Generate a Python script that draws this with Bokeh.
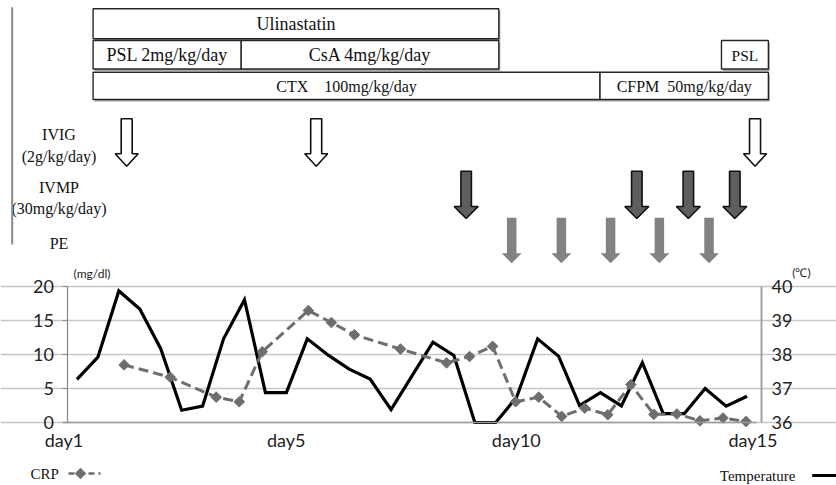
from bokeh.plotting import figure
from bokeh.models import Range1d, LinearAxis, FixedTicker, ColumnDataSource
from bokeh.embed import file_html
from bokeh.resources import INLINE
from bokeh.core.properties import value, field

# ---------------- data ----------------
# Temperature (deg C), sampled twice a day (33 samples)
temperature = [37.27, 37.92, 39.87, 39.34, 38.17, 36.36, 36.48, 38.46, 39.61, 36.88,
               36.88, 38.46, 37.98, 37.57, 37.28, 36.38, 37.37, 38.36, 37.97, 36.0,
               36.0, 36.75, 38.46, 37.95, 36.5, 36.88, 36.49, 37.76, 36.26, 36.26,
               37.0, 36.48, 36.77]
# CRP (mg/dl) on its own 30-slot time grid
crp_slots = 30
crp_index = [2, 4, 6, 7, 8, 10, 11, 12, 14, 16, 17, 18, 19, 20, 21, 22, 23, 24, 25,
             26, 27, 28, 29]
crp_values = [8.47, 6.67, 3.73, 3.05, 10.4, 16.47, 14.7, 12.9, 10.8, 8.77, 9.7, 11.2,
              3.05, 3.73, 0.9, 2.12, 1.14, 5.58, 1.2, 1.26, 0.25, 0.67, 0.15]

crp_ticks = [0, 5, 10, 15, 20]
temp_ticks = [36, 37, 38, 39, 40]
day_labels = ["day1", "day5", "day10", "day15"]
day_label_pos = [0.165, 5, 10, 15.146]

# Treatment timeline (days)
treatments = ["Ulinastatin", "PSL 2mg/kg/day", "CsA 4mg/kg/day",
              "CTX\u3000100mg/kg/day", "CFPM\u00a0\u00a050mg/kg/day", "PSL"]
treat_start = [0.80, 0.80, 4.02, 0.80, 11.82, 14.46]
treat_end = [9.62, 4.02, 9.62, 11.82, 15.48, 15.48]
treat_row = [0, 1, 1, 2, 2, 1]

ivig_days = [1.53, 5.65, 15.19]
ivmp_days = [8.91, 12.62, 13.74, 14.75]
pe_days = [9.90, 10.98, 12.05, 13.11, 14.19]

side_labels = ["IVIG", "(2g/kg/day)", "IVMP", "(30mg/kg/day)", "PE"]

# ---------------- layout / style ----------------
W, H = 836, 485
PX_PER_DAY = 46.0
DAY5_PX = 285.8
PL, PR = 66.0, 757.0          # plot-area edges used by the category series
Y0_PX, YTOP_PX = 422.0, 286.0  # pixel rows of CRP 0 / 20 (and 36 / 40 deg C)

def px_to_day(px):
    return 5 + (px - DAY5_PX) / PX_PER_DAY

def crp_at(py):
    return (Y0_PX - py) * 20.0 / (Y0_PX - YTOP_PX)

def temp_at(py):
    return 36 + (Y0_PX - py) * 4.0 / (Y0_PX - YTOP_PX)

def cat_at(px, n):
    return (px - PL) / ((PR - PL) / n) - 0.5

SERIF = value("Liberation Serif")
SANS = value("Lato")
ROW_TOP = [8.3, 40.0, 71.7]
ROW_BOT = [38.3, 68.5, 99.0]
box_font = ["18px", "18px", "18px", "16px", "16px", "15.5px"]

p = figure(width=W, height=H,
           x_range=Range1d(px_to_day(0), px_to_day(W)),
           y_range=Range1d(crp_at(H), crp_at(0)),
           output_backend="svg", toolbar_location=None, min_border=0)
p.extra_x_ranges = {"tidx": Range1d(cat_at(0, len(temperature)), cat_at(W, len(temperature))),
                    "cidx": Range1d(cat_at(0, crp_slots), cat_at(W, crp_slots)),
                    "pxx": Range1d(0, W)}
p.extra_y_ranges = {"temp": Range1d(temp_at(H), temp_at(0)),
                    "px": Range1d(H, 0)}
p.outline_line_color = None
p.xgrid.visible = False
p.ygrid.ticker = FixedTicker(ticks=crp_ticks)
p.ygrid.bounds = (px_to_day(66.5), px_to_day(755))
p.ygrid.grid_line_color = "#c6c6c6"
p.ygrid.grid_line_width = 1.3

# ---- axes ----
ya = p.yaxis[0]
ya.ticker = FixedTicker(ticks=crp_ticks)
ya.fixed_location = px_to_day(66.5)
ya.bounds = (0, 20)
ya.axis_line_color = "#8c8c8c"
ya.axis_line_width = 1.3
ya.major_tick_line_color = "#8c8c8c"
ya.major_tick_out = 5
ya.major_tick_in = 0
ya.minor_tick_line_color = None
ya.major_label_standoff = 8
ya.major_label_text_font = "Lato"
ya.major_label_text_font_size = "18px"
ya.major_label_text_color = "#222222"

xa = p.xaxis[0]
xa.ticker = FixedTicker(ticks=day_label_pos)
xa.major_label_overrides = dict(zip(day_label_pos, day_labels))
xa.fixed_location = 0
xa.bounds = (px_to_day(63), px_to_day(756))
xa.axis_line_color = "#9a9a9a"
xa.axis_line_width = 1.3
xa.major_tick_out = 0
xa.major_tick_in = 0
xa.minor_tick_line_color = None
xa.major_label_standoff = 6
xa.major_label_text_font = "Lato"
xa.major_label_text_font_size = "18px"
xa.major_label_text_color = "#222222"

ra = LinearAxis(y_range_name="temp", ticker=FixedTicker(ticks=temp_ticks), bounds=(36, 40))
ra.fixed_location = px_to_day(761)
ra.axis_line_color = "#a0a0a0"
ra.axis_line_width = 2
ra.major_tick_out = 0
ra.major_tick_in = 0
ra.minor_tick_line_color = None
ra.major_label_standoff = 10
ra.major_label_text_font = "Lato"
ra.major_label_text_font_size = "18px"
ra.major_label_text_color = "#222222"
p.add_layout(ra, "right")

# ---- series ----
p.line(x=list(range(len(temperature))), y=temperature, x_range_name="tidx",
       y_range_name="temp", line_color="black", line_width=3.2, line_join="miter")
CRP_COL = "#6e6e6e"
p.line(x=crp_index, y=crp_values, x_range_name="cidx", line_color=CRP_COL,
       line_width=3, line_dash="10 5")
p.scatter(x=crp_index, y=crp_values, x_range_name="cidx", marker="square",
          angle=0.785, size=7.5, fill_color=CRP_COL, line_color=CRP_COL)

# ---- treatment boxes ----
sh_x = 1.5 / PX_PER_DAY
box_src = ColumnDataSource(dict(
    l=treat_start, r=treat_end,
    t=[ROW_TOP[k] for k in treat_row], b=[ROW_BOT[k] for k in treat_row],
    sl=[s + sh_x for s in treat_start], sr=[e + sh_x for e in treat_end],
    st=[ROW_TOP[k] + 2 for k in treat_row], sb=[ROW_BOT[k] + 2 for k in treat_row],
    cx=[(s + e) / 2 for s, e in zip(treat_start, treat_end)],
    cy=[(ROW_TOP[k] + ROW_BOT[k]) / 2 + 0.5 for k in treat_row],
    name=treatments, fs=box_font))
p.quad(left="sl", right="sr", top="st", bottom="sb", source=box_src, y_range_name="px",
       fill_color="#a8a8a8", line_color=None)
p.quad(left="l", right="r", top="t", bottom="b", source=box_src, y_range_name="px",
       fill_color="white", line_color="#262626", line_width=1.4)
p.text(x="cx", y="cy", text="name", source=box_src, y_range_name="px", text_font=SERIF,
       text_font_size=field("fs"), text_align="center", text_baseline="middle",
       text_color="#111111")

# ---- arrows ----
def arrows(days, y_top, y_head, y_tip, shaft_px, head_px):
    sw = shaft_px / PX_PER_DAY / 2
    hw = head_px / PX_PER_DAY / 2
    xs, ys = [], []
    for c in days:
        xs.append([c - sw, c + sw, c + sw, c + hw, c, c - hw, c - sw])
        ys.append([y_top, y_top, y_head, y_head, y_tip, y_head, y_head])
    return xs, ys

xs, ys = arrows(ivig_days, 118.3, 153.3, 165.7, 11, 23)
p.patches(xs, ys, y_range_name="px", fill_color="white", line_color="#111111", line_width=1.6)
xs, ys = arrows(ivmp_days, 170.7, 206.0, 218.0, 10.5, 24)
p.patches(xs, ys, y_range_name="px", fill_color="#5e5e5e", line_color="#111111", line_width=1.6)
xs, ys = arrows(pe_days, 217.3, 252.7, 262.7, 9.5, 20)
p.patches(xs, ys, y_range_name="px", fill_color="#828282", line_color=None)

# ---- side labels, bracket line, units ----
p.text(x=[58.5] * len(side_labels), y=[134, 156, 187, 207.5, 243], text=side_labels,
       x_range_name="pxx", y_range_name="px", text_font=SERIF, text_font_size="16px",
       text_align="center", text_baseline="middle", text_color="#111111")
p.segment(x0=[11.7], y0=[6.7], x1=[11.7], y1=[244], x_range_name="pxx", y_range_name="px",
          line_color="#8a8a8a", line_width=2)
p.text(x=[91.5, 801], y=[272.5, 271.5], text=["(mg/dl)", "(\u2103)"],
       x_range_name="pxx", y_range_name="px", text_font=SANS, text_font_size="12px",
       text_align="center", text_baseline="middle", text_color="#222222")

# ---- legends ----
p.text(x=[30, 719.3], y=[473, 475], text=["CRP", "Temperature"], x_range_name="pxx",
       y_range_name="px", text_font=SERIF, text_font_size="15px", text_align="left",
       text_baseline="middle", text_color="#111111")
p.line(x=[68, 100], y=[473, 473], x_range_name="pxx", y_range_name="px",
       line_color=CRP_COL, line_width=2.5, line_dash="6 4")
p.scatter(x=[80], y=[473], x_range_name="pxx", y_range_name="px", marker="square",
          angle=0.785, size=7.5, fill_color=CRP_COL, line_color=CRP_COL)
p.line(x=[811.7, 836], y=[475, 475], x_range_name="pxx", y_range_name="px",
       line_color="black", line_width=3)

open("out.html", "w").write(file_html(p, INLINE))
